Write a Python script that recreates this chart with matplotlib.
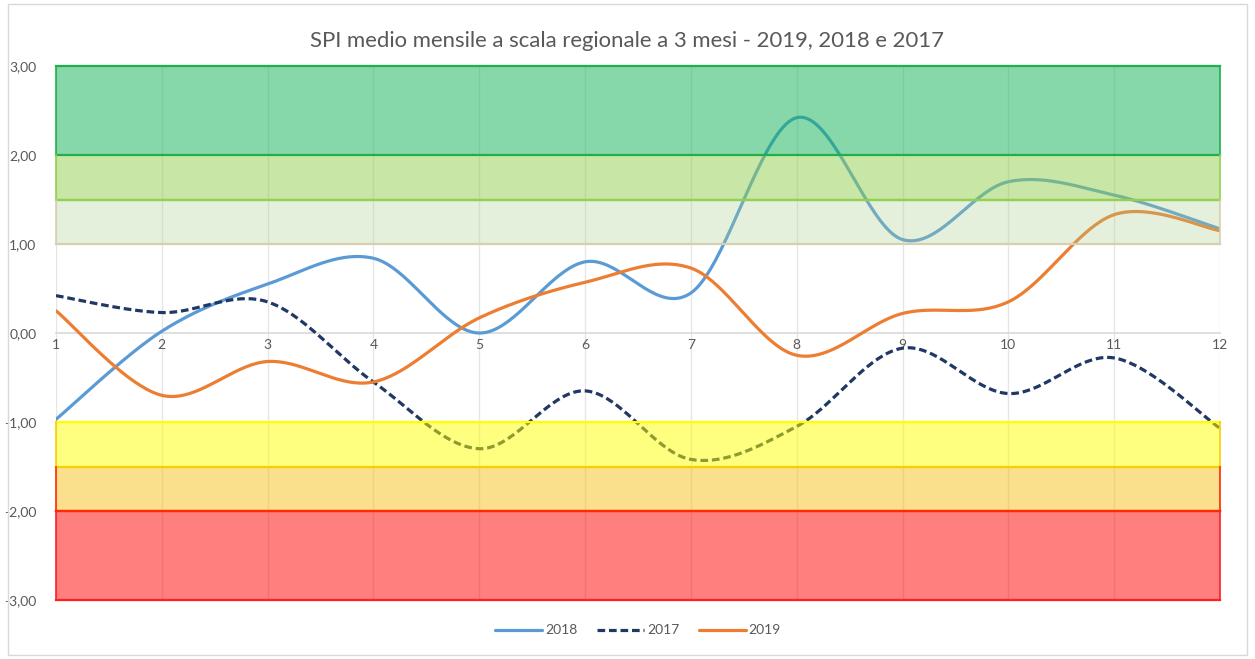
"""
SPI medio mensile a scala regionale a 3 mesi - 2019, 2018 e 2017.
Smoothed lines (Excel style) with coloured SPI class bands on top.
"""

import matplotlib
matplotlib.use("Agg")
import matplotlib.pyplot as plt
from matplotlib.patches import Rectangle
import numpy as np

MONTHS = [1, 2, 3, 4, 5, 6, 7, 8, 9, 10, 11, 12]
SPI_2018 = [-0.97, 0.02, 0.55, 0.84, 0.00, 0.80, 0.45, 2.42, 1.05, 1.70, 1.55, 1.17]
SPI_2017 = [0.42, 0.23, 0.35, -0.55, -1.30, -0.65, -1.42, -1.05, -0.17, -0.68, -0.28, -1.07]
SPI_2019 = [0.25, -0.70, -0.32, -0.55, 0.17, 0.57, 0.73, -0.25, 0.22, 0.35, 1.33, 1.15]

# SPI class bands: (low, high, fill, alpha, edge colour at low, edge colour at high)
BANDS = [
    (2.0, 3.0, "#0fb359", 0.5, "#1fb04a", "#1fb04a"),
    (1.5, 2.0, "#92d050", 0.5, "#92d050", None),
    (1.0, 1.5, "#a9d08e", 0.3, "#d8cfae", "#92d050"),
    (-1.5, -1.0, "#ffff00", 0.5, "#f5d000", "#ffff00"),
    (-2.0, -1.5, "#f7c01a", 0.5, "#ff2a00", None),
    (-3.0, -2.0, "#ff0000", 0.5, "#ff2020", "#ff2a00"),
]

SERIES = [
    ("2018", SPI_2018, "#5b9bd5", "-"),
    ("2017", SPI_2017, "#203864", (0, (2.4, 1.2))),
    ("2019", SPI_2019, "#ed7d31", "-"),
]


def smooth(x, y, n=40):
    """Catmull-Rom style bezier smoothing like Excel's smoothed lines."""
    p = np.column_stack([x, y]).astype(float)
    p = np.vstack([p[0], p, p[-1]])
    out = []
    t = np.linspace(0, 1, n)[:, None]
    for i in range(1, len(p) - 2):
        p0, p1, p2, p3 = p[i - 1], p[i], p[i + 1], p[i + 2]
        b1 = p1 + (p2 - p0) / 6
        b2 = p2 - (p3 - p1) / 6
        seg = ((1 - t) ** 3) * p1 + 3 * ((1 - t) ** 2) * t * b1 + 3 * (1 - t) * t ** 2 * b2 + t ** 3 * p2
        out.append(seg if i == 1 else seg[1:])
    out = np.vstack(out)
    return out[:, 0], out[:, 1]


plt.rcParams["font.family"] = ["Lato", "DejaVu Sans"]

fig = plt.figure(figsize=(12.55, 6.59), dpi=100)
ax = fig.add_axes([0.0446, 0.0895, 0.9275, 0.8103])

for label, vals, color, ls in SERIES:
    xs, ys = smooth(MONTHS, vals)
    ax.plot(xs, ys, color=color, linestyle=ls, linewidth=2.3, label=label, zorder=2,
            solid_capstyle="round")

for lo, hi, fill, alpha, e_lo, e_hi in BANDS:
    ax.add_patch(Rectangle((1, lo), 11, hi - lo, facecolor=fill, alpha=alpha,
                           edgecolor="none", zorder=3, clip_on=False))
    if e_lo:
        ax.plot([1, 12], [lo, lo], color=e_lo, linewidth=1.6, zorder=4, clip_on=False)
    if e_hi:
        ax.plot([1, 12], [hi, hi], color=e_hi, linewidth=1.6, zorder=4, clip_on=False)
    ax.plot([1, 1], [lo, hi], color=e_lo or fill, linewidth=1.2, zorder=4, clip_on=False)
    ax.plot([12, 12], [lo, hi], color=e_lo or fill, linewidth=1.2, zorder=4, clip_on=False)

ax.set_xlim(1, 12)
ax.set_ylim(-3, 3)
ax.set_xticks(MONTHS)
ax.set_yticks([-3, -2, -1, 0, 1, 2, 3])
ax.set_yticklabels([f"{v:.2f}".replace(".", ",") for v in [-3, -2, -1, 0, 1, 2, 3]])
ax.grid(axis="x", color="#e6e6e6", linewidth=1.0, zorder=1)
ax.set_axisbelow(True)

for side in ("top", "right", "left"):
    ax.spines[side].set_visible(False)
ax.spines["bottom"].set_position(("data", 0))
ax.spines["bottom"].set_color("#d9d9d9")
ax.spines["bottom"].set_linewidth(1.2)
ax.spines["bottom"].set_zorder(1)
ax.tick_params(axis="x", length=0, pad=4, labelsize=10, labelcolor="#595959")
ax.tick_params(axis="y", length=0, pad=14, labelsize=10, labelcolor="#595959")

fig.text(0.5, 0.938, "SPI medio mensile a scala regionale a 3 mesi - 2019, 2018 e 2017",
         ha="center", va="center", fontsize=15.9, color="#595959")

ax.legend(loc="center", bbox_to_anchor=(0.5, -0.057), ncol=3, frameon=False,
          fontsize=10, labelcolor="#595959", handlelength=3.4, columnspacing=1.4,
          handletextpad=0.2)

fig.add_artist(Rectangle((0.006, 0.006), 0.988, 0.988, transform=fig.transFigure,
                         facecolor="none", edgecolor="#d9d9d9", linewidth=1))

fig.savefig("out.png", dpi=100)
plt.close(fig)
